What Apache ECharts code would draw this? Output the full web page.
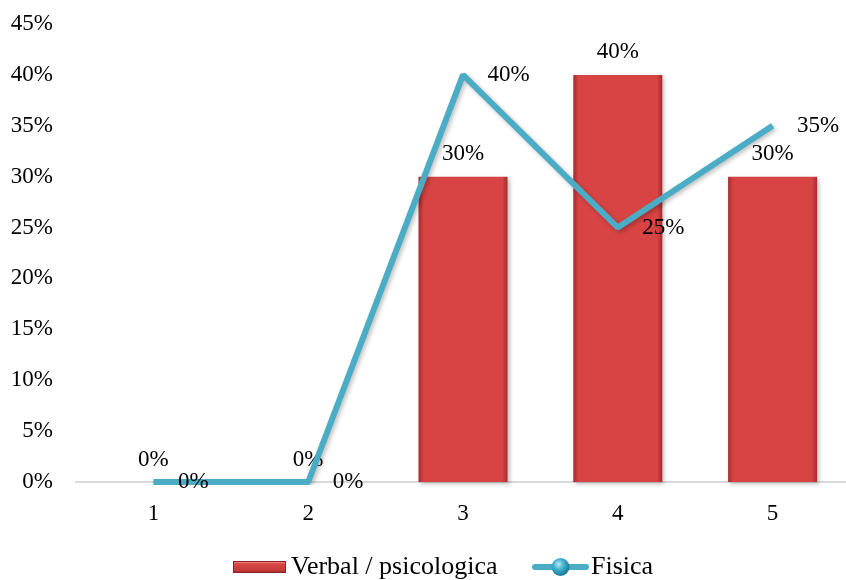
<!DOCTYPE html>
<html><head><meta charset="utf-8">
<script src="https://cdn.jsdelivr.net/npm/echarts@6/dist/echarts.min.js"></script>
<style>html,body{margin:0;padding:0;background:#fff;overflow:hidden}#c{width:856px;height:580px}</style>
</head><body><div id="c"></div>
<script>
const categories = ['1','2','3','4','5'];
const verbal = [0, 0, 30, 40, 30];
const fisica = [0, 0, 40, 25, 35];
const yTicks = [0,5,10,15,20,25,30,35,40,45];

const font = '"Liberation Serif", "Times New Roman", serif';
const svgUri = s => 'image://data:image/svg+xml;utf8,' + encodeURIComponent(s);
const barIcon = svgUri('<svg xmlns="http://www.w3.org/2000/svg" width="53" height="12"><defs><linearGradient id="v" x1="0" y1="0" x2="0" y2="1"><stop offset="0" stop-color="#f08a8a"/><stop offset="0.25" stop-color="#d84444"/><stop offset="0.8" stop-color="#c93b3b"/><stop offset="1" stop-color="#8f2525"/></linearGradient></defs><rect x="0.5" y="0.5" width="52" height="11" fill="url(#v)" stroke="#8f2525" stroke-width="1"/></svg>');
const lineIcon = svgUri('<svg xmlns="http://www.w3.org/2000/svg" width="57" height="20"><defs><radialGradient id="g" cx="0.4" cy="0.35" r="0.6"><stop offset="0" stop-color="#bfe9f5"/><stop offset="0.5" stop-color="#3fb0d0"/><stop offset="1" stop-color="#1f7f9a"/></radialGradient></defs><line x1="3" y1="10" x2="54" y2="10" stroke="#4bacc6" stroke-width="6" stroke-linecap="round"/><circle cx="28.5" cy="10" r="9" fill="url(#g)"/></svg>');

const chart = echarts.init(document.getElementById('c'));
chart.setOption({
  animation: false,
  textStyle: {fontFamily: font},
  grid: {left: 76, top: 24, width: 774, height: 458},
  legend: [
    {left: 228, top: 549, itemWidth: 53, itemHeight: 12,
     textStyle: {fontFamily: font, fontSize: 26, color: '#000'},
     data: [{name: 'Verbal / psicologica', icon: barIcon}]},
    {left: 527, top: 549, itemWidth: 57, itemHeight: 20,
     textStyle: {fontFamily: font, fontSize: 26, color: '#000', padding: [0,0,0,-3]},
     data: [{name: 'Fisica', icon: lineIcon}]}
  ],
  xAxis: {
    type: 'category', data: categories,
    axisLine: {lineStyle: {color: '#d9d9d9', width: 2}},
    axisTick: {show: false},
    axisLabel: {fontFamily: font, fontSize: 23, color: '#000', margin: 20}
  },
  yAxis: {
    type: 'value', min: 0, max: 45, interval: 5,
    splitLine: {show: false},
    axisLine: {show: false},
    axisLabel: {fontFamily: font, fontSize: 23, color: '#000', margin: 23,
      formatter: v => yTicks.includes(v) ? v + '%' : ''}
  },
  series: [
    {
      name: 'Verbal / psicologica', type: 'bar', data: verbal, barWidth: 89,
      itemStyle: {
        color: new echarts.graphic.LinearGradient(0,0,1,0,[
          {offset:0,color:'#a52c2c'},{offset:0.06,color:'#d84444'},
          {offset:0.94,color:'#d84444'},{offset:1,color:'#a52c2c'}]),
        shadowColor: 'rgba(0,0,0,0.25)', shadowBlur: 4, shadowOffsetX: 2, shadowOffsetY: 2
      },
      label: {show: true, position: 'top', distance: 11, formatter: '{c}%',
        fontFamily: font, fontSize: 23, color: '#000'}
    },
    {
      name: 'Fisica', type: 'line', data: fisica,
      symbol: 'circle', symbolSize: 1, showSymbol: true,
      itemStyle: {color: '#4bacc6'},
      lineStyle: {color: '#4bacc6', width: 6,
        shadowColor: 'rgba(0,0,0,0.25)', shadowBlur: 4, shadowOffsetX: 2, shadowOffsetY: 2},
      label: {show: true, position: 'right', distance: 24, formatter: '{c}%',
        fontFamily: font, fontSize: 23, color: '#000'}
    }
  ]
});
</script></body></html>
